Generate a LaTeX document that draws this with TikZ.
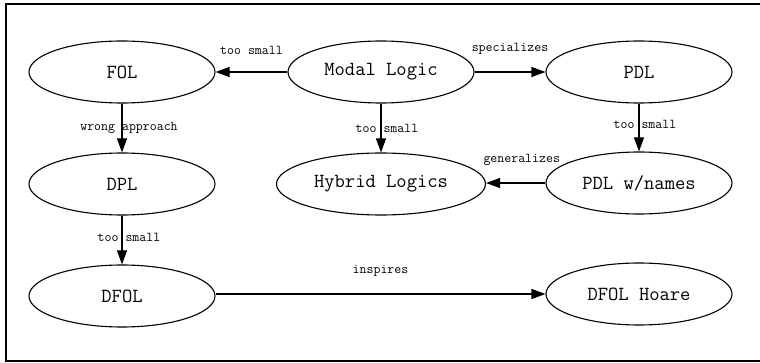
\documentclass[tikz,border=0pt]{standalone}
\usepackage{tikz}
\usetikzlibrary{shapes,arrows.meta}

\begin{document}
\begin{tikzpicture}[x=1pt, y=-1pt, >={Triangle[length=14pt,width=10pt]},
  logic/.style={ellipse, draw, line width=1.1pt, inner sep=0pt, minimum width=186pt, minimum height=62pt, font=\ttfamily\fontsize{20}{22}\selectfont},
  lbl/.style={inner sep=0pt, font=\ttfamily\fontsize{13.5}{15}\selectfont},
  link/.style={->, line width=1.1pt}]
\useasboundingbox (0,0) rectangle (760,363);
\draw [line width=2.6pt] (6,4) rectangle (800,361);
\node[logic] (fol) at (122,72) {FOL};
\node[logic] (modal) at (381,72) {Modal Logic};
\node[logic] (pdl) at (639,72) {PDL};
\node[logic] (dpl) at (122,184) {DPL};
\node[logic, minimum width=209pt] (hybrid) at (381,184) {Hybrid Logics};
\node[logic] (pdlnames) at (639,183) {PDL w/names};
\node[logic] (dfol) at (122,296) {DFOL};
\node[logic] (hoare) at (639,294) {DFOL Hoare};
\draw[link] (modal) -- node[lbl, above=17pt] {too small} (fol);
\draw[link] (modal) -- node[lbl, above=17pt] {specializes} (pdl);
\draw[link] (fol) -- node[lbl, xshift=7pt] {wrong approach} (dpl);
\draw[link] (modal) -- node[lbl, xshift=6pt] {too small} (hybrid);
\draw[link] (pdl) -- node[lbl, xshift=6pt, yshift=3pt] {too small} (pdlnames);
\draw[link] (pdlnames.west) -- node[lbl, above=17pt, xshift=6pt] {generalizes} (hybrid.east |- pdlnames.west);
\draw[link] (dpl) -- node[lbl, xshift=7pt, yshift=3pt] {too small} (dfol);
\draw[link] (dfol.east |- hoare.west) -- node[lbl, above=17pt] {inspires} (hoare.west);
\end{tikzpicture}
\end{document}
